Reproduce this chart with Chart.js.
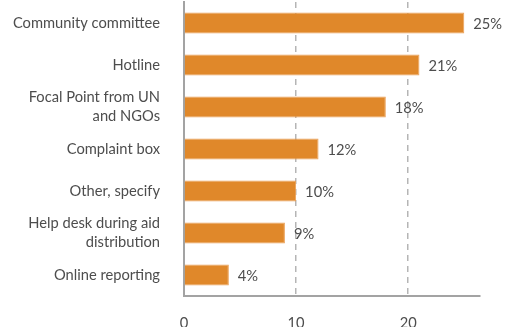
<!DOCTYPE html>
<html>
<head>
<meta charset="utf-8">
<script src="https://cdn.jsdelivr.net/npm/chart.js@4"></script>
<style>
  html, body { margin: 0; padding: 0; background: #fff; overflow: hidden; }
  #wrap { width: 509px; height: 330px; }
</style>
</head>
<body>
<div id="wrap"><canvas id="channelChart"></canvas></div>
<script>
// Feedback channels (share of respondents, %)
const channels = [
  'Community committee',
  'Hotline',
  ['Focal Point from UN', 'and NGOs'],
  'Complaint box',
  'Other, specify',
  ['Help desk during aid', 'distribution'],
  'Online reporting'
];
const shares = [25, 21, 18, 12, 10, 9, 4];
const xTicks = [0, 10, 20];

const textColor = '#4d4d4d';
const labelFont = { family: 'Lato, "Open Sans", sans-serif', size: 14.7 };

// draws "NN%" to the right of each bar
const valueLabels = {
  id: 'valueLabels',
  afterDatasetsDraw(chart) {
    const ctx = chart.ctx;
    const meta = chart.getDatasetMeta(0);
    ctx.save();
    ctx.font = '14.7px Lato, "Open Sans", sans-serif';
    ctx.fillStyle = textColor;
    ctx.textAlign = 'left';
    ctx.textBaseline = 'middle';
    meta.data.forEach((bar, i) => {
      ctx.fillText(shares[i] + '%', bar.x + 9, bar.y + 1);
    });
    ctx.restore();
  }
};

const ctx = document.getElementById('channelChart').getContext('2d');
new Chart(ctx, {
  type: 'bar',
  data: {
    labels: channels,
    datasets: [{
      data: shares,
      backgroundColor: '#e0882a',
      borderColor: '#eba057',
      borderWidth: 1,
      barPercentage: 0.5,
      categoryPercentage: 1
    }]
  },
  options: {
    indexAxis: 'y',
    responsive: true,
    maintainAspectRatio: false,
    animation: false,
    layout: { padding: { top: 2, right: 29, left: 0, bottom: 0 } },
    plugins: {
      legend: { display: false },
      tooltip: { enabled: false }
    },
    scales: {
      x: {
        min: 0,
        max: 26.4,
        afterBuildTicks: scale => {
          scale.ticks = xTicks.map(v => ({ value: v }));
        },
        afterFit: scale => {
          scale.height = 34;
          scale.paddingLeft = 0;
          scale.paddingRight = 0;
        },
        ticks: {
          color: textColor,
          font: labelFont,
          padding: 18
        },
        grid: {
          drawTicks: false,
          color: c => (c.tick && c.tick.value === 0 ? 'rgba(0,0,0,0)' : '#b5b5b5'),
          lineWidth: 1.5
        },
        border: { display: true, color: '#a3a3a3', width: 2, dash: [6, 5] }
      },
      y: {
        afterFit: scale => {
          scale.width = 184;
          scale.paddingTop = 0;
          scale.paddingBottom = 0;
        },
        ticks: {
          autoSkip: false,
          color: textColor,
          font: { ...labelFont, lineHeight: 1.32 },
          padding: 24
        },
        grid: { display: false, drawTicks: false },
        border: { display: true, color: '#a3a3a3', width: 2 }
      }
    }
  },
  plugins: [valueLabels]
});
</script>
</body>
</html>
